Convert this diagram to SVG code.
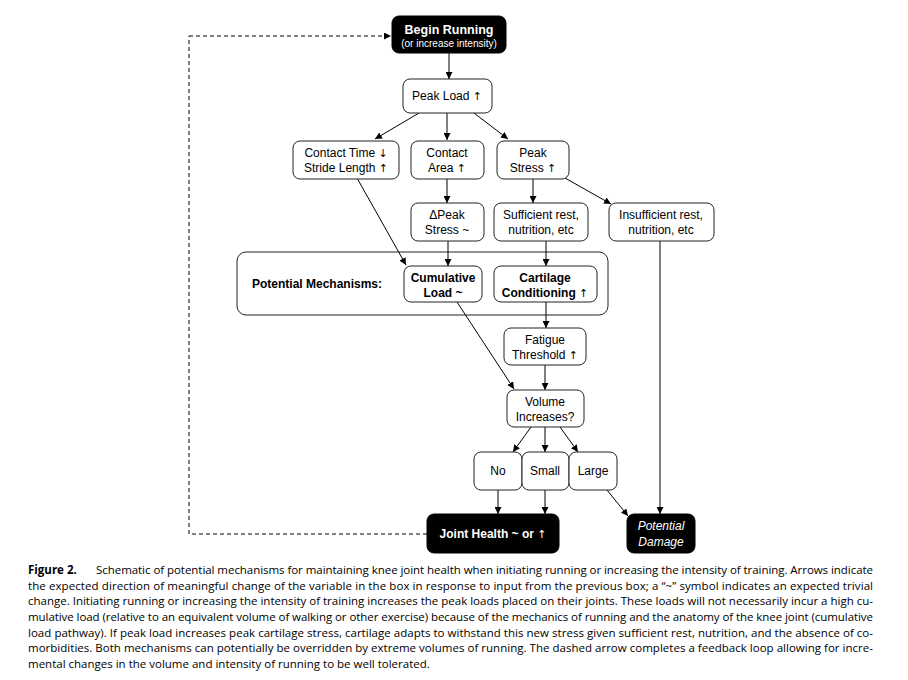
<svg xmlns="http://www.w3.org/2000/svg" width="908" height="680" viewBox="0 0 908 680">
<defs>
<marker id="ah" viewBox="0 0 10 10" refX="10" refY="5" markerWidth="7" markerHeight="7" orient="auto" markerUnits="userSpaceOnUse">
<path d="M0,0 L10,5 L0,10 z" fill="#000"/>
</marker>
<style>
.n{fill:#fff;stroke:#222;stroke-width:1}
.b{fill:#000;stroke:#000;stroke-width:1}
.t{font-family:"Liberation Sans",Arial,sans-serif;font-size:12px;fill:#000;text-anchor:middle}
.tb{font-family:"Liberation Sans",Arial,sans-serif;font-size:12px;font-weight:bold;fill:#000;text-anchor:middle}
.w{fill:#fff}
.ar{font-family:"DejaVu Sans",sans-serif;font-size:11px;font-weight:normal}
.c{stroke:#000;stroke-width:1;fill:none;marker-end:url(#ah)}
.d{stroke:#000;stroke-width:1;fill:none;stroke-dasharray:4,3}
.cap{font-family:"Open Sans","Liberation Sans",sans-serif;font-size:11.5px;fill:#000}
</style>
</defs>
<rect width="908" height="680" fill="#fff"/>
<g id="mechanisms">
<rect x="237" y="252" width="371" height="63" rx="9" fill="none" stroke="#222" stroke-width="1"/>
<text class="tb" x="317" y="288">Potential Mechanisms:</text>
</g>
<g id="connectors">
<path class="d" d="M427,534 H189 V36"/>
<path class="d" d="M189,36 H391" marker-end="url(#ah)"/>
<path class="c" d="M449,53 V79"/>
<path class="c" d="M419,113 L375,139"/>
<path class="c" d="M447,113 V140"/>
<path class="c" d="M474,113 L508,139"/>
<path class="c" d="M357,178 L406,265"/>
<path class="c" d="M447,178 V203"/>
<path class="c" d="M533,178 V203"/>
<path class="c" d="M565,178 L611,204"/>
<path class="c" d="M448,241 V266"/>
<path class="c" d="M546,241 V266"/>
<path class="c" d="M660,241 V514"/>
<path class="c" d="M546,302 V328"/>
<path class="c" d="M457,302 L514,389"/>
<path class="c" d="M545,365 V390"/>
<path class="c" d="M531,427 L513,452"/>
<path class="c" d="M545,427 V452"/>
<path class="c" d="M560,427 L578,452"/>
<path class="c" d="M498,490 V514"/>
<path class="c" d="M545,490 V514"/>
<path class="c" d="M607,490 L628,516"/>
</g>
<g id="begin">
<rect class="b" x="392" y="16" width="114" height="37" rx="7"/>
<text class="tb w" x="449" y="34" style="font-size:12.5px">Begin Running</text>
<text class="t w" x="449" y="47" style="font-size:10px">(or increase intensity)</text>
</g>
<g id="peakload">
<rect class="n" x="403" y="79" width="89" height="34" rx="7"/>
<text class="t" x="447" y="100">Peak Load <tspan class="ar">↑</tspan></text>
</g>
<g id="contacttime">
<rect class="n" x="293" y="141" width="106" height="38" rx="7"/>
<text class="t" x="346" y="157">Contact Time <tspan class="ar">↓</tspan></text>
<text class="t" x="346" y="172">Stride Length <tspan class="ar">↑</tspan></text>
</g>
<g id="contactarea">
<rect class="n" x="411" y="141" width="73" height="38" rx="7"/>
<text class="t" x="447" y="157">Contact</text>
<text class="t" x="447" y="172">Area <tspan class="ar">↑</tspan></text>
</g>
<g id="peakstress">
<rect class="n" x="497" y="141" width="72" height="38" rx="7"/>
<text class="t" x="533" y="157">Peak</text>
<text class="t" x="533" y="172">Stress <tspan class="ar">↑</tspan></text>
</g>
<g id="deltapeak">
<rect class="n" x="411" y="203" width="73" height="38" rx="7"/>
<text class="t" x="447" y="219">ΔPeak</text>
<text class="t" x="447" y="234">Stress ~</text>
</g>
<g id="sufficient">
<rect class="n" x="494" y="203" width="94" height="38" rx="7"/>
<text class="t" x="541" y="219">Sufficient rest,</text>
<text class="t" x="541" y="234">nutrition, etc</text>
</g>
<g id="insufficient">
<rect class="n" x="609" y="203" width="105" height="38" rx="7"/>
<text class="t" x="661" y="219">Insufficient rest,</text>
<text class="t" x="661" y="234">nutrition, etc</text>
</g>
<g id="cumulative">
<rect class="n" x="404" y="266" width="78" height="36" rx="7"/>
<text class="tb" x="443" y="282">Cumulative</text>
<text class="tb" x="443" y="297">Load ~</text>
</g>
<g id="cartilage">
<rect class="n" x="494" y="266" width="103" height="36" rx="7"/>
<text class="tb" x="545" y="282">Cartilage</text>
<text class="tb" x="545" y="297">Conditioning <tspan class="ar">↑</tspan></text>
</g>
<g id="fatigue">
<rect class="n" x="504" y="328" width="82" height="37" rx="7"/>
<text class="t" x="545" y="344">Fatigue</text>
<text class="t" x="545" y="359">Threshold <tspan class="ar">↑</tspan></text>
</g>
<g id="volume">
<rect class="n" x="507" y="390" width="77" height="37" rx="7"/>
<text class="t" x="545" y="406">Volume</text>
<text class="t" x="545" y="421">Increases?</text>
</g>
<g id="no">
<rect class="n" x="474" y="452" width="48" height="38" rx="7"/>
<text class="t" x="498" y="475">No</text>
</g>
<g id="small">
<rect class="n" x="522" y="452" width="47" height="38" rx="7"/>
<text class="t" x="545" y="475">Small</text>
</g>
<g id="large">
<rect class="n" x="569" y="452" width="48" height="38" rx="7"/>
<text class="t" x="593" y="475">Large</text>
</g>
<g id="jointhealth">
<rect class="b" x="427" y="514" width="132" height="39" rx="7"/>
<text class="tb w" x="493" y="538">Joint Health ~ or <tspan class="ar">↑</tspan></text>
</g>
<g id="damage">
<rect class="b" x="627" y="514" width="68" height="39" rx="7"/>
<text class="t w" x="661" y="530" style="font-style:italic">Potential</text>
<text class="t w" x="661" y="546" style="font-style:italic">Damage</text>
</g>
<g id="caption">
<text class="cap" x="28" y="574" style="font-weight:bold">Figure 2.</text>
<text class="cap" x="96" y="574" textLength="777" lengthAdjust="spacing">Schematic of potential mechanisms for maintaining knee joint health when initiating running or increasing the intensity of training. Arrows indicate</text>
<text class="cap" x="28" y="590" textLength="845" lengthAdjust="spacing">the expected direction of meaningful change of the variable in the box in response to input from the previous box; a “~” symbol indicates an expected trivial</text>
<text class="cap" x="28" y="605" textLength="845" lengthAdjust="spacing">change. Initiating running or increasing the intensity of training increases the peak loads placed on their joints. These loads will not necessarily incur a high cu-</text>
<text class="cap" x="28" y="621" textLength="845" lengthAdjust="spacing">mulative load (relative to an equivalent volume of walking or other exercise) because of the mechanics of running and the anatomy of the knee joint (cumulative</text>
<text class="cap" x="28" y="637" textLength="845" lengthAdjust="spacing">load pathway). If peak load increases peak cartilage stress, cartilage adapts to withstand this new stress given sufficient rest, nutrition, and the absence of co-</text>
<text class="cap" x="28" y="652" textLength="845" lengthAdjust="spacing">morbidities. Both mechanisms can potentially be overridden by extreme volumes of running. The dashed arrow completes a feedback loop allowing for incre-</text>
<text class="cap" x="28" y="668">mental changes in the volume and intensity of running to be well tolerated.</text>
</g>
</svg>
